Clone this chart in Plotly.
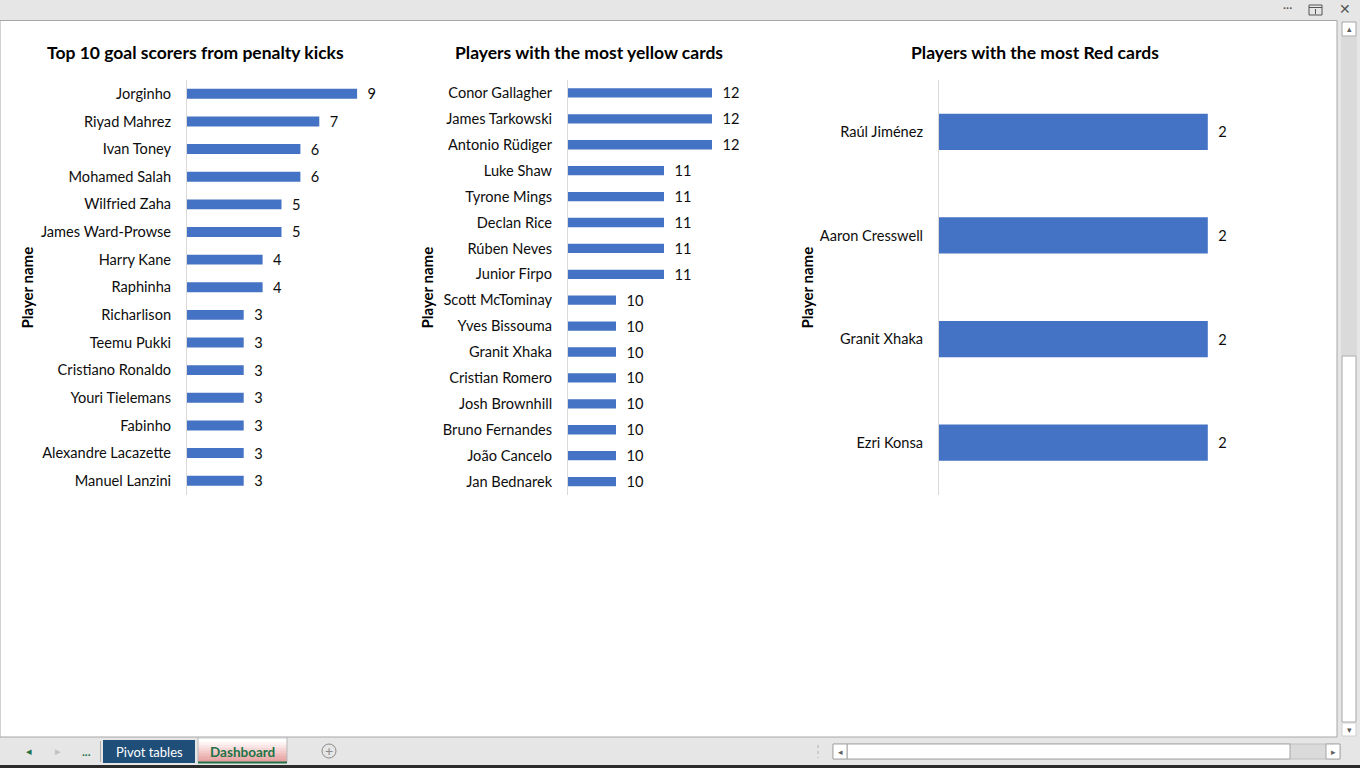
import plotly.graph_objects as go

W, H = 1360, 768

# ---------------- data ----------------
pen_players = ["Jorginho", "Riyad Mahrez", "Ivan Toney", "Mohamed Salah", "Wilfried Zaha",
               "James Ward-Prowse", "Harry Kane", "Raphinha", "Richarlison", "Teemu Pukki",
               "Cristiano Ronaldo", "Youri Tielemans", "Fabinho", "Alexandre Lacazette",
               "Manuel Lanzini"]
pen_goals = [9, 7, 6, 6, 5, 5, 4, 4, 3, 3, 3, 3, 3, 3, 3]

yel_players = ["Conor Gallagher", "James Tarkowski", "Antonio Rüdiger", "Luke Shaw",
               "Tyrone Mings", "Declan Rice", "Rúben Neves", "Junior Firpo",
               "Scott McTominay", "Yves Bissouma", "Granit Xhaka", "Cristian Romero",
               "Josh Brownhill", "Bruno Fernandes", "João Cancelo", "Jan Bednarek"]
yel_cards = [12, 12, 12, 11, 11, 11, 11, 11, 10, 10, 10, 10, 10, 10, 10, 10]

red_players = ["Raúl Jiménez", "Aaron Cresswell", "Granit Xhaka", "Ezri Konsa"]
red_cards = [2, 2, 2, 2]

titles = ["Top 10 goal scorers from penalty kicks",
          "Players with the most yellow cards",
          "Players with the most Red cards"]
axis_title = "Player name"
tabs = ["Pivot tables", "Dashboard"]

# ---------------- style ----------------
FONT = "Lato"
BAR = "#4472C4"
TXT = "#0d0d0d"
LBL = 14.6


def fx(x):
    return x / W


def fy(y):
    return 1 - y / H


fig = go.Figure()

charts = [
    dict(cats=pen_players, vals=pen_goals, x0=187, x1=376, rng=[0, 10], width=0.36),
    dict(cats=yel_players, vals=yel_cards, x0=568, x1=760, rng=[9, 13], width=0.36),
    dict(cats=red_players, vals=red_cards, x0=939, x1=1275, rng=[0, 2.5], width=0.35),
]
ytop, ybot = 80.0, 494.5

for i, c in enumerate(charts):
    sfx = "" if i == 0 else str(i + 1)
    fig.add_trace(go.Bar(
        x=c["vals"], y=c["cats"], orientation="h",
        marker=dict(color=BAR, line=dict(width=0)),
        width=c["width"],
        texttemplate="\u00a0\u00a0%{x}", textposition="outside",
        constraintext="none",
        textfont=dict(family=FONT, size=LBL, color=TXT),
        outsidetextfont=dict(family=FONT, size=LBL, color=TXT),
        cliponaxis=False, showlegend=False, hoverinfo="skip",
        xaxis="x" + sfx, yaxis="y" + sfx,
    ))
    fig.update_layout(**{
        "xaxis" + sfx: dict(domain=[fx(c["x0"]), fx(c["x1"])], range=c["rng"],
                            visible=False, fixedrange=True,
                            anchor="y" + sfx),
        "yaxis" + sfx: dict(domain=[fy(ybot), fy(ytop)], type="category",
                            categoryorder="array", categoryarray=c["cats"],
                            autorange="reversed", anchor="x" + sfx,
                            showline=True, linecolor="#d9d9d9", linewidth=1,
                            showgrid=False, zeroline=False,
                            ticks="outside", ticklen=12, tickcolor="rgba(0,0,0,0)",
                            tickfont=dict(family=FONT, size=LBL, color=TXT),
                            fixedrange=True),
    })

shapes = []
ann = []


def rect(x0, x1, y0, y1, fill, line=None, lw=1, layer="below"):
    shapes.append(dict(type="rect", xref="paper", yref="paper", layer=layer,
                       x0=fx(x0), x1=fx(x1), y0=fy(y1), y1=fy(y0),
                       fillcolor=fill,
                       line=dict(color=line or "rgba(0,0,0,0)", width=lw if line else 0)))


def seg(x0, y0, x1, y1, color, width=1, dash="solid"):
    shapes.append(dict(type="line", xref="paper", yref="paper",
                       x0=fx(x0), x1=fx(x1), y0=fy(y0), y1=fy(y1),
                       line=dict(color=color, width=width, dash=dash)))


def label(text, x, y, size, color, family=FONT, angle=0):
    ann.append(dict(text=text, x=fx(x), y=fy(y), xref="paper", yref="paper",
                    showarrow=False, xanchor="center", yanchor="middle",
                    textangle=angle, font=dict(family=family, size=size, color=color)))


# window chrome
rect(0, 1337, 20.5, 737, "white", "#a6a6a6")
# vertical scrollbar
rect(1341, 1357, 37, 355, "#dadada")
rect(1342, 1356, 22, 36, "white", "#a6a6a6")
rect(1342, 1356, 356, 722, "white", "#a6a6a6")
rect(1342, 1356, 723, 736, "white", "#d0d0d0")
# bottom dark strip
rect(0, 1360, 765, 768, "#2b2b2b")
# tabs
seg(100.5, 741, 100.5, 762, "#b0b0b0")
rect(103, 195, 740, 763, "#1f4e79")
# Dashboard tab: white-to-pink gradient bands
grad = ["#ffffff", "#fdf3f3", "#fae6e6", "#f7d8d8", "#f3cac9", "#efbbba", "#eaaeac", "#e6a2a0"]
y0 = 739
step = 23 / len(grad)
for k, col in enumerate(grad):
    rect(198, 287, y0 + k * step, y0 + (k + 1) * step + 0.6, col)
seg(198, 737, 198, 762, "#b8b8b8")
seg(287, 737, 287, 762, "#b8b8b8")
seg(198, 762.5, 287, 762.5, "#217346", width=2)
shapes.append(dict(type="circle", xref="paper", yref="paper",
                   x0=fx(322), x1=fx(336), y0=fy(758), y1=fy(744),
                   line=dict(color="#8a8a8a", width=1)))
# horizontal scrollbar
rect(833, 1340, 744, 759, "#dadada", "#c0c0c0")
rect(847, 1290, 744, 759, "white", "#a6a6a6")
rect(833, 847, 744, 759, "white", "#a6a6a6")
rect(1326, 1340, 744, 759, "white", "#a6a6a6")
seg(818, 745, 818, 758, "#b0b0b0", dash="dot")
# restore icon top
rect(1309, 1322, 5, 15, "rgba(0,0,0,0)", "#555555", layer="above")
seg(1309, 7.5, 1322, 7.5, "#555555")
seg(1315.5, 9, 1315.5, 14, "#555555")

# chart titles
for t, cx in zip(titles, [195.5, 588.5, 1035]):
    label("<b>" + t + "</b>", cx, 53, 17.5, "black")
# axis titles
for cx in [27, 427, 807]:
    label("<b>" + axis_title + "</b>", cx, 287.5, 15, "black", angle=-90)

# tab labels and small glyphs
label(tabs[0], 149, 751.5, 13, "white")
label("<b>" + tabs[1] + "</b>", 242.5, 751.5, 13.5, "#217346")
label("+", 329, 750.5, 14, "#8a8a8a")
label("◂", 29, 751, 11, "#217346", family="DejaVu Sans")
label("▸", 58, 751, 11, "#c0c0c0", family="DejaVu Sans")
label("<b>...</b>", 86, 751, 12, "#217346")
label("◂", 840, 751.5, 9, "#606060", family="DejaVu Sans")
label("▸", 1333, 751.5, 9, "#606060", family="DejaVu Sans")
label("▴", 1349, 29, 9, "#606060", family="DejaVu Sans")
label("▾", 1349, 729.5, 9, "#606060", family="DejaVu Sans")
label("···", 1287, 8, 12, "#555555")
label("✕", 1345, 9, 14, "#555555", family="DejaVu Sans")

fig.update_layout(
    width=W, height=H, autosize=False,
    margin=dict(l=0, r=0, t=0, b=0),
    paper_bgcolor="#e6e6e6", plot_bgcolor="rgba(0,0,0,0)",
    shapes=shapes, annotations=ann,
    font=dict(family=FONT, color=TXT),
)

fig.write_html("out.html", config={"displayModeBar": False})
